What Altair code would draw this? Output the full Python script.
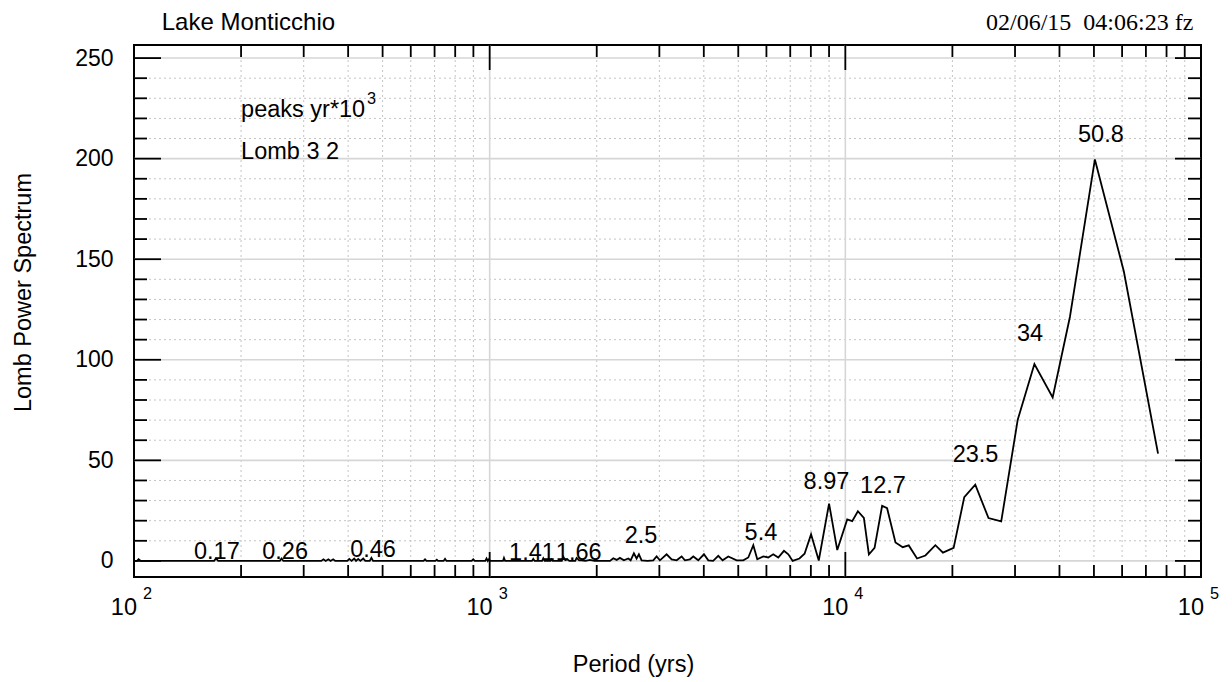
import altair as alt
import pandas as pd

# ---- data ----
period = [100, 102, 103, 104.5, 168, 170, 172.5, 257, 260, 263, 336, 341, 346, 352, 357, 363, 368,
          398, 403, 409, 416, 421, 427, 433, 441, 447, 460, 465, 470, 652, 658, 664, 704, 710, 716,
          742, 749, 756, 890, 899, 908, 972, 980, 988, 995, 1003, 1090, 1097, 1105, 1315, 1326, 1338,
          1404, 1415, 1428, 1484, 1494, 1505, 1595, 1611, 1632, 1653, 1675, 1740, 1756, 1785, 1814,
          1860, 1914, 1970, 2042, 2179, 2226, 2275, 2324, 2385, 2453, 2491, 2544, 2589, 2628, 2674,
          2780, 2884, 2947, 3011, 3144, 3248, 3355, 3465, 3540, 3657, 3737, 3859, 4004, 4118, 4250,
          4393, 4518, 4687, 4947, 5164, 5335, 5511, 5655, 5879, 6071, 6271, 6478, 6722, 6913, 7110,
          7430, 7680, 8010, 8420, 9000, 9491, 10123, 10455, 10846, 11275, 11647, 12083, 12689, 13105,
          13835, 14502, 15075, 15908, 16795, 17913, 18813, 20160, 21597, 23192, 25266, 27434, 30529,
          34010, 38280, 42810, 50310, 60670, 75720]
power = [0, 0, 0.8, 0, 0, 1.2, 0, 0, 1.2, 0, 0, 0.8, 0, 0.8, 0, 0.8, 0,
         0, 1.0, 0, 1.2, 0, 1.0, 0, 1.2, 0, 0, 1.5, 0, 0, 0.8, 0, 0, 0.6, 0,
         0, 1.0, 0, 0, 0.8, 0, 0, 1.2, 0, 0.8, 0, 0, 1.5, 0, 0, 1.0, 0,
         0, 1.3, 0, 0, 0.8, 0, 0, 2.0, 0.4, 0.8, 0, 0, 1.5, 0.3, 0.3,
         0, 0.5, 0, 0, 0, 1.3, 0.5, 1.5, 0.3, 1.2, 0.3, 3.8, 1.2, 3.3, 0.3,
         0, 0.3, 2.2, 0.3, 3.3, 0.8, 0.3, 2.2, 0.3, 0.8, 2.2, 0.3, 3.3, 0.3, 0,
         2.5, 0.3, 2.2, 0.3, 0.3, 1.7, 7.8, 0.8, 2.2, 1.7, 3.3, 1.7, 5.0, 3.3, 0,
         1.2, 3.6, 13.2, 0.2, 28.5, 5.4, 20.6, 19.8, 24.7, 21.4, 3.2, 6.5, 27.4, 26.2,
         9.2, 6.8, 7.7, 1.2, 2.7, 7.8, 4.1, 6.5, 31.7, 37.9, 21.3, 19.6, 70.2,
         97.9, 81.3, 121.4, 199.6, 144.0, 53.3]

peak_text = ["0.17", "0.26", "0.46", "1.41", "1.66", "2.5", "5.4", "8.97", "12.7", "23.5", "34", "50.8"]
peak_period = [171, 266, 470, 1315, 1780, 2664, 5790, 8850, 12760, 23230, 33040, 52300]
peak_height = [0.8, 0.8, 1.8, 0.5, 0.5, 9.1, 10.4, 35.8, 34.0, 49.2, 109.5, 208.4]

note_text = ["peaks yr*10", "Lomb 3 2"]
note_period = [200, 200]
note_height = [220.5, 200.0]
note_sup = ["3"]

decades = [100, 1000, 10000, 100000]
decade_exp = ["2", "3", "4", "5"]
x_major_inner = [1000, 10000]
x_minor = [200, 300, 400, 500, 600, 700, 800, 900,
           2000, 3000, 4000, 5000, 6000, 7000, 8000, 9000,
           20000, 30000, 40000, 50000, 60000, 70000, 80000, 90000]
x_major_ticks = [100, 1000, 10000, 100000]
y_major = [0, 50, 100, 150, 200, 250]
y_minor = [10, 20, 30, 40, 60, 70, 80, 90, 110, 120, 130, 140, 160, 170, 180, 190,
           210, 220, 230, 240]

title_text = "Lake Monticchio"
stamp_text = "02/06/15\u00a0 04:06:23 fz"

# ---- layout / style ----
W, H = 1067, 532
FONT = "Liberation Sans"
FS = 23.5
xs = alt.Scale(type="log", domain=[100, 100000], nice=False)
ys = alt.Scale(domain=[-8, 256.5], nice=False, zero=False)

x_axis = alt.Axis(
    labels=False, ticks=False, domain=False, grid=False,
    title="Period (yrs)", titleX=499, titleY=94, titleAlign="center",
    titleBaseline="alphabetic", titleFont=FONT, titleFontSize=FS,
    titleFontWeight="normal", titleColor="black")
y_axis = alt.Axis(
    values=y_major, ticks=False, domain=False, grid=False, labelPadding=21,
    labelFont=FONT, labelFontSize=23, labelColor="black", labelFlush=False,
    labelOverlap=False,
    title="Lomb Power Spectrum", titleX=-104, titleY=247, titleAngle=270,
    titleAlign="center", titleBaseline="alphabetic", titleFont=FONT,
    titleFontSize=FS, titleFontWeight="normal", titleColor="black")


def X(f):
    return alt.X(f, type="quantitative", scale=xs, axis=x_axis)


def Y(f):
    return alt.Y(f, type="quantitative", scale=ys, axis=y_axis)


def vals(v):
    return pd.DataFrame({"v": v})


minor_style = dict(color="#c4c4c4", strokeWidth=1, strokeDash=[2, 3])
major_style = dict(color="#d6d6d6", strokeWidth=1.6)

gx_minor = alt.Chart(vals(x_minor)).mark_rule(**minor_style).encode(
    x=X("v"), y=alt.value(0), y2=alt.value(H))
gy_minor = alt.Chart(vals(y_minor)).mark_rule(**minor_style).encode(
    y=Y("v"), x=alt.value(0), x2=alt.value(W))
gx_major = alt.Chart(vals(x_major_inner)).mark_rule(**major_style).encode(
    x=X("v"), y=alt.value(0), y2=alt.value(H))
gy_major = alt.Chart(vals(y_major)).mark_rule(**major_style).encode(
    y=Y("v"), x=alt.value(0), x2=alt.value(W))

tick_style = dict(color="black", strokeWidth=1.8)
tb_major = alt.Chart(vals(x_major_ticks)).mark_rule(**tick_style).encode(
    x=X("v"), y=alt.value(H), y2=alt.value(H - 25))
tb_minor = alt.Chart(vals(x_minor)).mark_rule(**tick_style).encode(
    x=X("v"), y=alt.value(H), y2=alt.value(H - 12))
tt_major = alt.Chart(vals(x_major_ticks)).mark_rule(**tick_style).encode(
    x=X("v"), y=alt.value(0), y2=alt.value(25))
tt_minor = alt.Chart(vals(x_minor)).mark_rule(**tick_style).encode(
    x=X("v"), y=alt.value(0), y2=alt.value(12))
tl_major = alt.Chart(vals(y_major)).mark_rule(**tick_style).encode(
    y=Y("v"), x=alt.value(0), x2=alt.value(27))
tl_minor = alt.Chart(vals(y_minor)).mark_rule(**tick_style).encode(
    y=Y("v"), x=alt.value(0), x2=alt.value(13))
tr_major = alt.Chart(vals(y_major)).mark_rule(**tick_style).encode(
    y=Y("v"), x=alt.value(W), x2=alt.value(W - 26))
tr_minor = alt.Chart(vals(y_minor)).mark_rule(**tick_style).encode(
    y=Y("v"), x=alt.value(W), x2=alt.value(W - 13))

line = alt.Chart(pd.DataFrame({"period": period, "power": power})).mark_line(
    color="black", strokeWidth=1.8).encode(x=X("period"), y=Y("power"))

txt = dict(font=FONT, color="black", baseline="alphabetic")

peaks = alt.Chart(pd.DataFrame({"t": peak_text, "p": peak_period, "h": peak_height})).mark_text(
    align="center", fontSize=FS, **txt).encode(x=X("p"), y=Y("h"), text="t:N")

notes_df = pd.DataFrame({"t": note_text, "p": note_period, "h": note_height})
notes = alt.Chart(notes_df).mark_text(align="left", fontSize=FS, **txt).encode(
    x=X("p"), y=Y("h"), text="t:N")
sup = alt.Chart(pd.DataFrame({"t": note_sup, "p": note_period[:1], "h": note_height[:1]})).mark_text(
    align="left", fontSize=16.3, dx=126, dy=-13.4, **txt).encode(x=X("p"), y=Y("h"), text="t:N")

dec_df = pd.DataFrame({"d": decades, "e": decade_exp})
dec_base = alt.Chart(dec_df).mark_text(align="right", dx=3, fontSize=FS, **txt).encode(
    x=X("d"), y=alt.value(H + 38), text=alt.value("10"))
dec_exp = alt.Chart(dec_df).mark_text(align="left", dx=9, fontSize=16.3, **txt).encode(
    x=X("d"), y=alt.value(H + 22), text="e:N")

title = alt.Chart(pd.DataFrame({"t": [title_text]})).mark_text(
    align="left", fontSize=24, **txt).encode(x=alt.value(27.7), y=alt.value(-15), text="t:N")
stamp = alt.Chart(pd.DataFrame({"t": [stamp_text]})).mark_text(
    align="right", fontSize=24, font="Liberation Serif", color="black", baseline="alphabetic").encode(
    x=alt.value(W - 7.7), y=alt.value(-15), text="t:N")

chart = alt.layer(
    gx_minor, gy_minor, gx_major, gy_major,
    tb_major, tb_minor, tt_major, tt_minor, tl_major, tl_minor, tr_major, tr_minor,
    line, peaks, notes, sup, dec_base, dec_exp, title, stamp,
).properties(
    width=W, height=H,
    padding={"left": 126, "top": 37, "right": 22, "bottom": 100},
    autosize=alt.AutoSizeParams(type="none"),
    background="white",
).configure_view(stroke="black", strokeWidth=2)

chart.save("out.html", embed_options={"renderer": "svg", "actions": False})
